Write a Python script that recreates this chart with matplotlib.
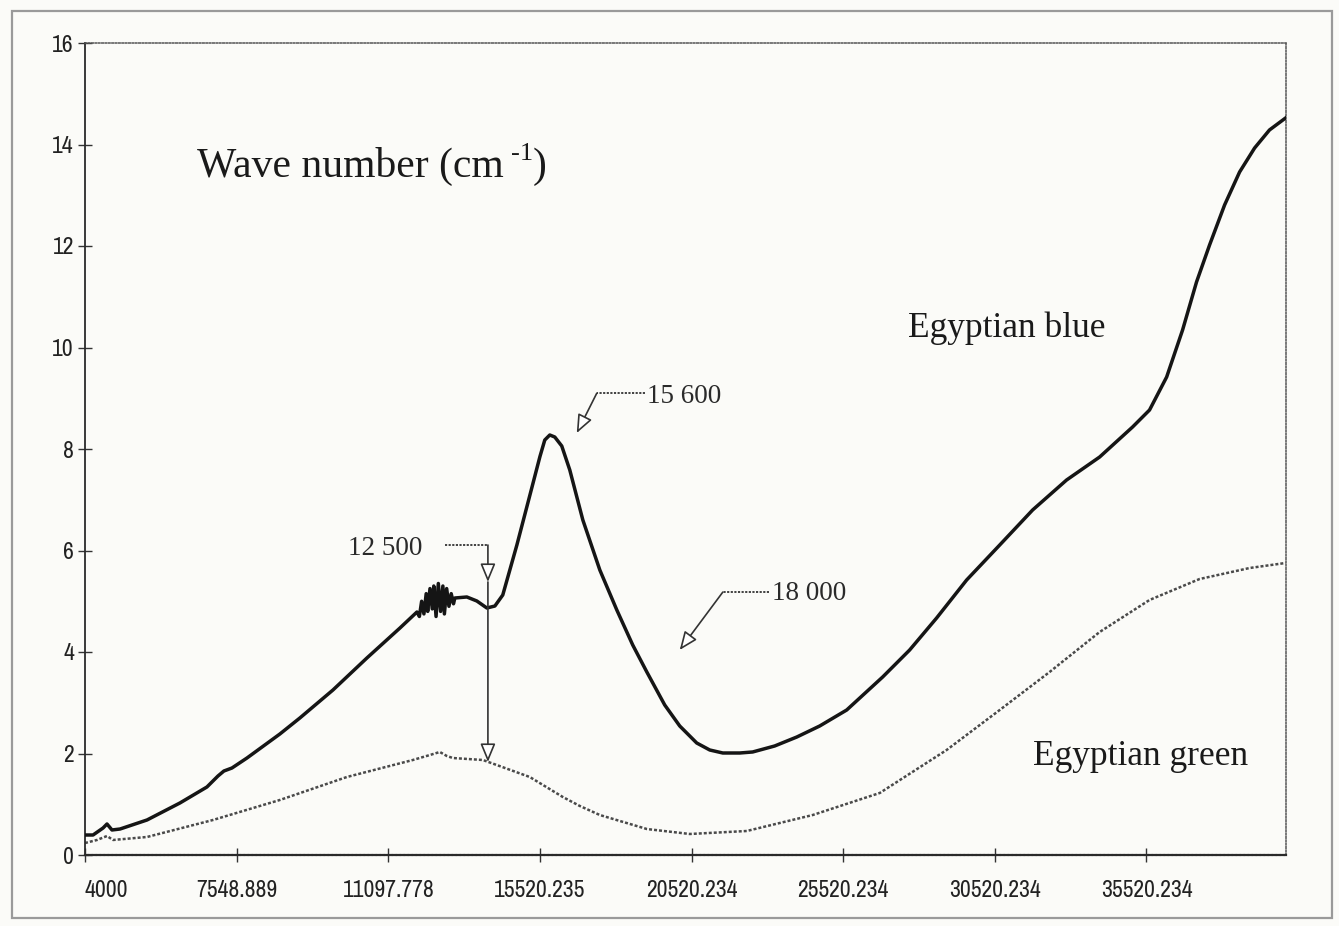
import matplotlib
matplotlib.use("Agg")
import matplotlib.pyplot as plt
from matplotlib import font_manager
from matplotlib.patches import Rectangle

# Category axis: labelled every N samples, positions are evenly spaced
x_tick_labels = ["4000", "7548.889", "11097.778", "15520.235",
                 "20520.234", "25520.234", "30520.234", "35520.234"]
x_tick_pos = [0, 1, 2, 3, 4, 5, 6, 7]
y_ticks = [0, 2, 4, 6, 8, 10, 12, 14, 16]

# Egyptian blue spectrum (position along category axis, value)
blue_x = [0.000, 0.053, 0.119, 0.145, 0.178, 0.231, 0.409, 0.626, 0.804, 0.877,
          0.916, 0.969, 1.068, 1.285, 1.417, 1.635, 1.859, 2.077, 2.189,
          2.205, 2.220, 2.235, 2.250, 2.260, 2.275, 2.290, 2.300, 2.315, 2.330,
          2.345, 2.360, 2.370, 2.385, 2.400, 2.415, 2.430,
          2.439, 2.518, 2.584, 2.650, 2.703, 2.755, 2.848, 2.953, 3.000, 3.032,
          3.065, 3.098, 3.144, 3.197, 3.283, 3.395, 3.507, 3.612, 3.705, 3.823,
          3.922, 4.034, 4.120, 4.206, 4.318, 4.403, 4.548, 4.694, 4.845, 5.023,
          5.260, 5.438, 5.616, 5.814, 6.032, 6.249, 6.473, 6.691, 6.908, 7.020,
          7.133, 7.238, 7.330, 7.416, 7.515, 7.614, 7.713, 7.811, 7.917]
blue_y = [0.394, 0.394, 0.532, 0.611, 0.493, 0.512, 0.690, 1.025, 1.340, 1.557,
          1.655, 1.714, 1.911, 2.384, 2.700, 3.251, 3.882, 4.473, 4.788,
          4.700, 5.000, 4.750, 5.150, 4.800, 5.250, 4.850, 5.300, 4.700, 5.350,
          4.800, 5.300, 4.750, 5.250, 4.900, 5.150, 4.950,
          5.064, 5.084, 5.005, 4.867, 4.906, 5.123, 6.108, 7.310, 7.850, 8.177,
          8.276, 8.236, 8.059, 7.586, 6.601, 5.616, 4.828, 4.138, 3.606, 2.956,
          2.542, 2.207, 2.069, 2.010, 2.010, 2.030, 2.148, 2.325, 2.542, 2.857,
          3.507, 4.039, 4.670, 5.419, 6.108, 6.798, 7.389, 7.842, 8.433, 8.768,
          9.419, 10.345, 11.291, 12.020, 12.808, 13.458, 13.931, 14.286, 14.522]

# Egyptian green spectrum
green_x = [0.000, 0.079, 0.145, 0.185, 0.409, 0.844, 1.285, 1.727, 2.162, 2.274,
           2.340, 2.386, 2.426, 2.624, 2.933, 3.151, 3.263, 3.395, 3.705, 3.988,
           4.364, 4.799, 5.241, 5.682, 6.032, 6.361, 6.691, 7.020, 7.350, 7.680,
           7.917]
green_y = [0.236, 0.296, 0.374, 0.296, 0.355, 0.690, 1.084, 1.537, 1.872, 1.970,
           2.030, 1.951, 1.911, 1.872, 1.537, 1.143, 0.966, 0.788, 0.512, 0.414,
           0.473, 0.788, 1.222, 2.069, 2.857, 3.606, 4.394, 5.025, 5.438, 5.655,
           5.754]

x_max = 7.92

# Prefer a narrow sans face for tick labels when one is available
narrow = None
for f in font_manager.fontManager.ttflist:
    if "Narrow" in f.name or ("Condensed" in f.name and "Sans" in f.name):
        narrow = f.name
        break
if narrow:
    tick_font, tick_size = [narrow, "Liberation Sans"], 17
else:
    tick_font, tick_size = ["Liberation Sans"], 14.5

W, H = 1339, 926
fig = plt.figure(figsize=(W / 100, H / 100), dpi=100)
fig.patch.set_facecolor("#fbfbf8")
fig.add_artist(Rectangle((12 / W, 1 - 918 / H), (1332 - 12) / W, (918 - 11) / H,
                         transform=fig.transFigure, fill=False,
                         edgecolor="#9a9a9a", linewidth=1.6))

ax = fig.add_axes([85 / W, 1 - 855 / H, (1286 - 85) / W, (855 - 43) / H])
ax.set_facecolor("#fbfbf8")

ax.plot(green_x, green_y, color="#4a4a4a", linewidth=1.8,
        linestyle=(0, (1.2, 0.8)), zorder=2)
ax.plot(blue_x, blue_y, color="#151515", linewidth=2.5,
        solid_joinstyle="round", zorder=3)

ax.set_xlim(0, x_max)
ax.set_ylim(0, 16)

ax.set_xticks(x_tick_pos)
ax.set_xticklabels(x_tick_labels)
ax.set_yticks(y_ticks)
ax.set_yticklabels([str(v) for v in y_ticks])

for lab in ax.get_xticklabels() + ax.get_yticklabels():
    lab.set_family(tick_font)
    lab.set_fontsize(tick_size)
    lab.set_color("#222222")
ax.get_xticklabels()[0].set_horizontalalignment("left")

ax.tick_params(axis="both", direction="inout", length=10, width=1.0,
               color="#333333")
ax.tick_params(axis="x", pad=13)
ax.tick_params(axis="y", pad=3)

ax.spines["left"].set_color("#2a2a2a")
ax.spines["left"].set_linewidth(1.3)
ax.spines["bottom"].set_color("#2a2a2a")
ax.spines["bottom"].set_linewidth(1.6)
ax.spines["bottom"].set_linestyle((0, (1, 0.8)))
for side in ("top", "right"):
    ax.spines[side].set_color("#555555")
    ax.spines[side].set_linewidth(1.1)
    ax.spines[side].set_linestyle((0, (1, 1.2)))

serif = ["Liberation Serif", "DejaVu Serif"]

# Title-like label with a raised "-1" exponent
t1 = ax.text(0.738, 13.36, "Wave number (cm", family=serif, fontsize=30,
             color="#1a1a1a", va="baseline", ha="left")
ax.annotate("-1", xy=(1, 0), xycoords=t1, xytext=(5, 15),
            textcoords="offset points", family=serif, fontsize=19,
            color="#1a1a1a", va="bottom", ha="left")
ax.annotate(")", xy=(1, 0), xycoords=t1, xytext=(21, 0),
            textcoords="offset points", family=serif, fontsize=30,
            color="#1a1a1a", va="bottom", ha="left")

ax.text(5.425, 10.21, "Egyptian blue", family=serif, fontsize=25.5,
        color="#1a1a1a", va="baseline", ha="left")
ax.text(6.249, 1.773, "Egyptian green", family=serif, fontsize=25.5,
        color="#1a1a1a", va="baseline", ha="left")

lab_kw = dict(family=serif, fontsize=19.5, color="#2a2a2a", va="baseline")
line_kw = dict(color="#333333", linewidth=1.3, linestyle=(0, (1.2, 0.8)))
head = dict(arrowstyle="-|>,head_length=0.8,head_width=0.33",
            mutation_scale=14, color="#333333", linewidth=1.2, fc="white",
            shrinkA=0, shrinkB=0)

# 15 600 label
ax.text(3.705, 8.906, "15 600", ha="left", **lab_kw)
ax.plot([3.69, 3.375], [9.10, 9.10], **line_kw)
ax.annotate("", xy=(3.243, 8.315), xytext=(3.375, 9.10), arrowprops=head)

# 18 000 label
ax.text(4.529, 5.02, "18 000", ha="left", **lab_kw)
ax.plot([4.51, 4.206], [5.18, 5.18], **line_kw)
ax.annotate("", xy=(3.922, 4.04), xytext=(4.206, 5.18), arrowprops=head)

# 12 500 label
ax.text(2.228, 5.91, "12 500", ha="right", **lab_kw)
ax.plot([2.373, 2.657], [6.108, 6.108], **line_kw)
ax.annotate("", xy=(2.657, 5.38), xytext=(2.657, 6.108), arrowprops=head)
ax.annotate("", xy=(2.657, 1.833), xytext=(2.657, 5.38), arrowprops=head)

fig.savefig("out.png", dpi=100, facecolor=fig.get_facecolor())
